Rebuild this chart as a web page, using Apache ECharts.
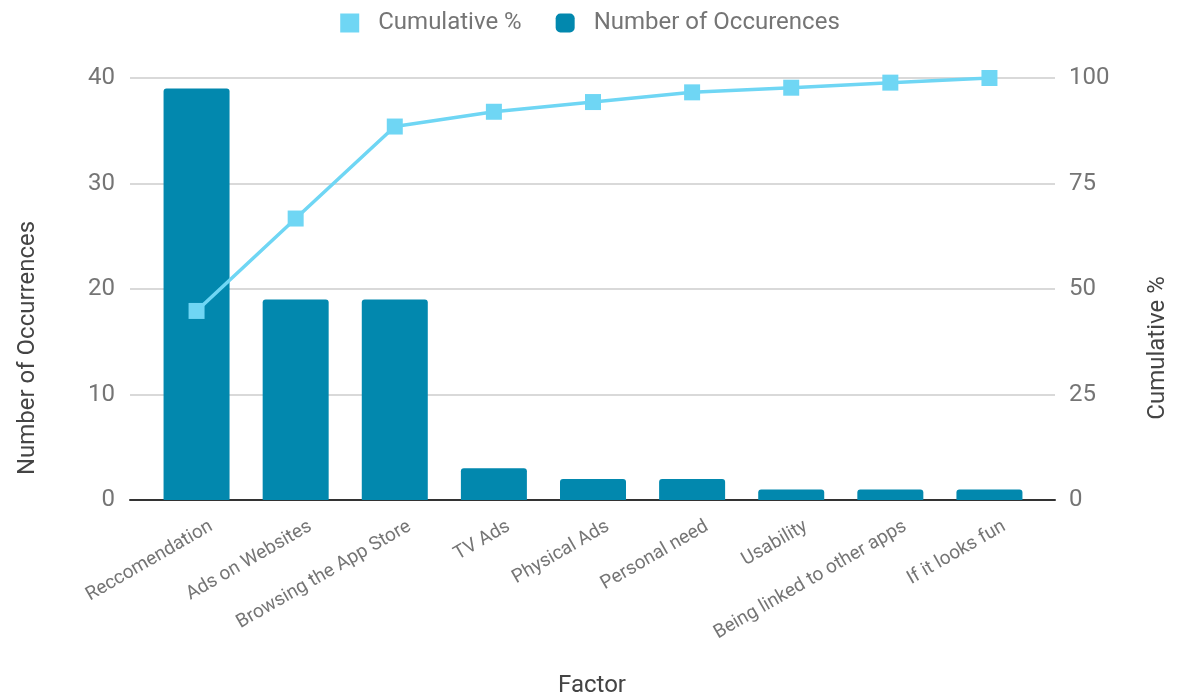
<!DOCTYPE html>
<html>
<head>
<meta charset="utf-8">
<script src="https://cdn.jsdelivr.net/npm/echarts@6/dist/echarts.min.js"></script>
<style>
html, body { margin: 0; padding: 0; background: #fff; }
#main { width: 1180px; height: 697px; }
</style>
</head>
<body>
<div id="main"></div>
<script>
// factors and counts
var factors = ['Reccomendation', 'Ads on Websites', 'Browsing the App Store', 'TV Ads',
	'Physical Ads', 'Personal need', 'Usability', 'Being linked to other apps', 'If it looks fun'];
var occurrences = [39, 19, 19, 3, 2, 2, 1, 1, 1];
var cumulative = [44.8, 66.7, 88.5, 92.0, 94.3, 96.6, 97.7, 98.9, 100];

var chart = echarts.init(document.getElementById('main'));
var grey = '#757575';
var font = 'Roboto, sans-serif';

var option = {
	backgroundColor: '#fff',
	textStyle: { fontFamily: font },
	legend: {
		top: 6,
		left: 'center',
		itemWidth: 19,
		itemHeight: 19,
		itemGap: 34,
		textStyle: { color: grey, fontSize: 24, fontFamily: font, padding: [0, 0, 0, 14] },
		data: [
			{ name: 'Cumulative %', icon: 'rect' },
			{ name: 'Number of Occurences', icon: 'roundRect' }
		]
	},
	// grid 0: y axes + gridlines, grid 1: bars/line, grid 2: category labels
	grid: [
		{ left: 130, right: 125, top: 78, bottom: 197 },
		{ left: 147, right: 141, top: 78, bottom: 197 },
		{ left: 157, right: 131, top: 78, bottom: 197 }
	],
	xAxis: [{
		gridIndex: 0,
		type: 'category',
		data: [''],
		axisLine: { show: true, lineStyle: { color: '#333', width: 2 } },
		axisTick: { show: false },
		axisLabel: { show: false }
	}, {
		gridIndex: 1,
		type: 'category',
		data: factors,
		show: false
	}, {
		gridIndex: 2,
		type: 'category',
		data: factors,
		axisLine: { show: false },
		axisTick: { show: false },
		axisLabel: {
			interval: 0,
			rotate: 30,
			margin: 17,
			verticalAlign: 'top',
			color: grey,
			fontSize: 19,
			fontFamily: font
		}
	}],
	yAxis: [{
		gridIndex: 0,
		type: 'value',
		min: 0, max: 40, interval: 10,
		axisLine: { show: false },
		axisTick: { show: false },
		axisLabel: { color: grey, fontSize: 24, margin: 15, fontFamily: font },
		splitLine: { lineStyle: { color: '#cccccc', width: 1.5 } }
	}, {
		gridIndex: 0,
		type: 'value',
		position: 'right',
		min: 0, max: 100, interval: 25,
		axisLine: { show: false },
		axisTick: { show: false },
		axisLabel: { color: grey, fontSize: 24, margin: 14, fontFamily: font },
		splitLine: { show: false }
	}, {
		gridIndex: 1,
		type: 'value',
		min: 0, max: 40, interval: 10,
		show: false
	}, {
		gridIndex: 1,
		type: 'value',
		min: 0, max: 100, interval: 25,
		show: false
	}, {
		gridIndex: 2,
		type: 'value',
		show: false
	}],
	graphic: [{
		type: 'text',
		x: 28, y: 348,
		rotation: Math.PI / 2,
		style: {
			text: 'Number of Occurrences',
			fill: '#444', fontSize: 24, fontFamily: font,
			textAlign: 'center', textVerticalAlign: 'middle'
		}
	}, {
		type: 'text',
		x: 1158, y: 348,
		rotation: Math.PI / 2,
		style: {
			text: 'Cumulative %',
			fill: '#444', fontSize: 24, fontFamily: font,
			textAlign: 'center', textVerticalAlign: 'middle'
		}
	}, {
		type: 'text',
		x: 592, y: 686,
		style: {
			text: 'Factor',
			fill: '#444', fontSize: 24, fontFamily: font,
			textAlign: 'center', textVerticalAlign: 'middle'
		}
	}],
	series: [{
		name: 'Number of Occurences',
		type: 'bar',
		xAxisIndex: 1,
		yAxisIndex: 2,
		barWidth: 66,
		itemStyle: { color: '#0288ae', borderRadius: [3, 3, 0, 0] },
		data: occurrences
	}, {
		name: 'Cumulative %',
		type: 'line',
		xAxisIndex: 1,
		yAxisIndex: 3,
		symbol: 'rect',
		symbolSize: 16,
		lineStyle: { color: '#6fd6f4', width: 3.5 },
		itemStyle: { color: '#6fd6f4' },
		data: cumulative
	}]
};
chart.setOption(option);
</script>
</body>
</html>
